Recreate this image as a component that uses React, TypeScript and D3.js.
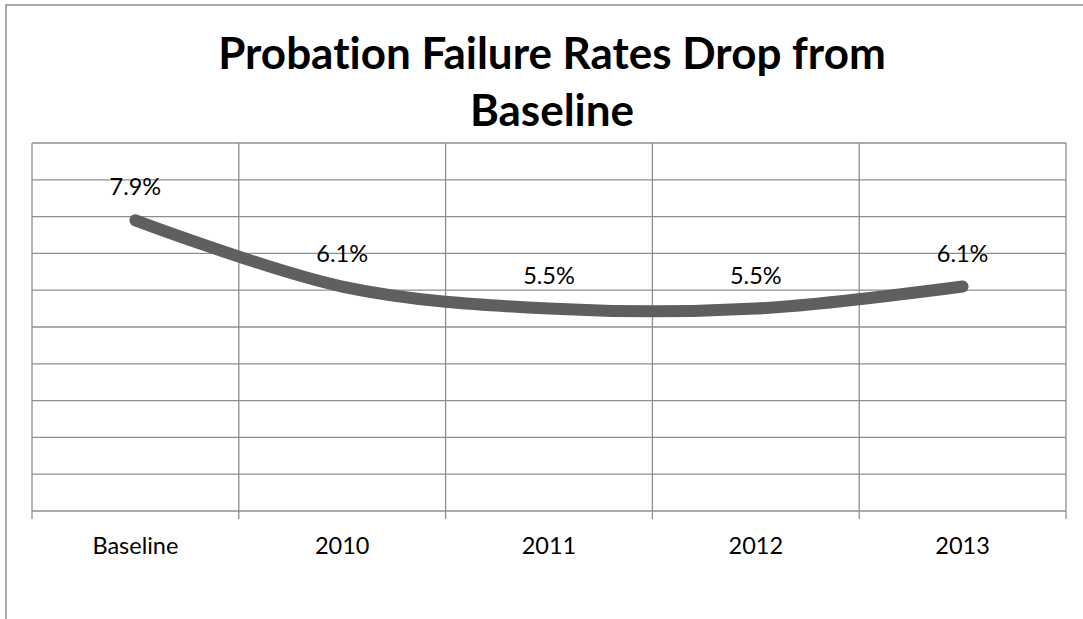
import React from "react";
import * as d3 from "d3";

// Probation failure rate by period
const categories = ["Baseline", "2010", "2011", "2012", "2013"];
const rates = [0.079, 0.061, 0.055, 0.055, 0.061];
const rateLabels = ["7.9%", "6.1%", "5.5%", "5.5%", "6.1%"];
const titleLines = ["Probation Failure Rates Drop from", "Baseline"];

const W = 1083;
const H = 619;
const plot = { left: 32, right: 1066, top: 143, bottom: 511 };
const FONT = "Lato, 'Open Sans', sans-serif";
const GRID = "#8f8f8f";
const LINE = "#5f5f5f";
const textStyle = { fontVariantLigatures: "none" as const };

export default function App() {
  const x = d3
    .scaleBand<string>()
    .domain(categories)
    .range([plot.left, plot.right]);
  const y = d3.scaleLinear().domain([0, 0.1]).range([plot.bottom, plot.top]);

  const cx = (c: string) => (x(c) ?? 0) + x.bandwidth() / 2;
  const pts: [number, number][] = categories.map((c, i) => [cx(c), y(rates[i])]);

  const path = d3.line().curve(d3.curveCardinal.tension(0))(pts) ?? "";

  const yTicks = y.ticks(10);
  const boundaries = [...categories.map((c) => x(c) ?? 0), plot.right];

  return (
    <svg
      width={W}
      height={H}
      style={{ position: "absolute", left: 0, top: 0, display: "block" }}
    >
      <rect x={0} y={0} width={W} height={H} fill="#ffffff" />
      {/* chart frame */}
      <rect
        x={6}
        y={5}
        width={W + 40}
        height={H + 40}
        fill="none"
        stroke={GRID}
        strokeWidth={1.5}
      />

      {/* title */}
      <text
        x={552}
        textAnchor="middle"
        fontFamily={FONT}
        fontWeight="bold"
        fontSize={44}
        fill="#000"
        style={textStyle}
      >
        {titleLines.map((t, i) => (
          <tspan key={i} x={552} y={69 + i * 57}>
            {t}
          </tspan>
        ))}
      </text>

      {/* horizontal gridlines */}
      {yTicks.map((t) => (
        <line
          key={"h" + t}
          x1={plot.left}
          x2={plot.right}
          y1={y(t)}
          y2={y(t)}
          stroke={GRID}
          strokeWidth={1.3}
        />
      ))}

      {/* vertical gridlines with tick marks below the axis */}
      {boundaries.map((bx, i) => (
        <line
          key={"v" + i}
          x1={bx}
          x2={bx}
          y1={plot.top}
          y2={plot.bottom + 8}
          stroke={GRID}
          strokeWidth={1.3}
        />
      ))}

      {/* category labels */}
      {categories.map((c) => (
        <text
          key={"c" + c}
          x={cx(c)}
          y={554}
          textAnchor="middle"
          fontFamily={FONT}
          fontSize={23.5}
          fill="#000"
          style={textStyle}
        >
          {c}
        </text>
      ))}

      {/* series line */}
      <path
        d={path}
        fill="none"
        stroke={LINE}
        strokeWidth={12}
        strokeLinecap="round"
        strokeLinejoin="round"
      />

      {/* value labels */}
      {categories.map((c, i) => (
        <text
          key={"l" + c}
          x={cx(c)}
          y={y(rates[i]) - 25}
          textAnchor="middle"
          fontFamily={FONT}
          fontSize={23.5}
          fill="#000"
          style={textStyle}
        >
          {rateLabels[i]}
        </text>
      ))}
    </svg>
  );
}
